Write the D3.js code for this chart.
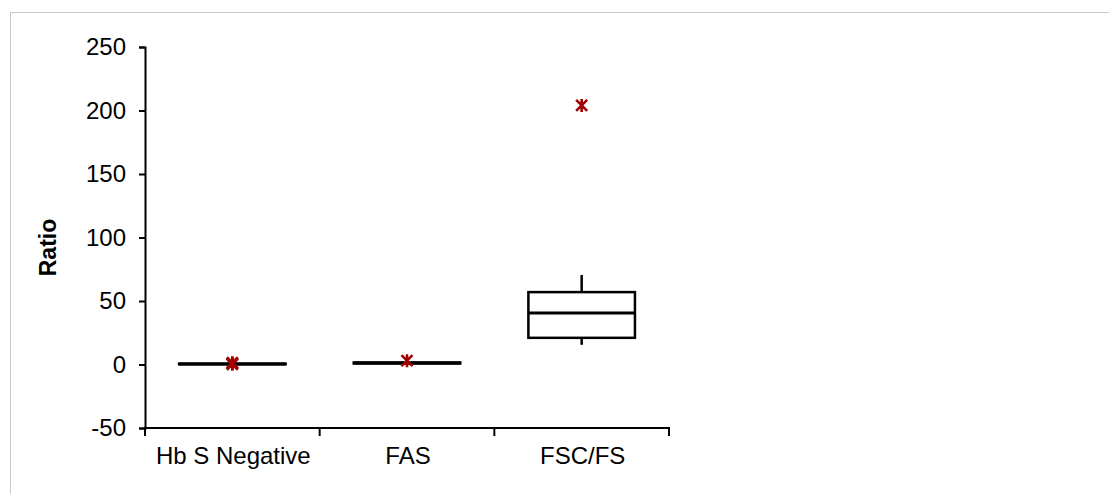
<!DOCTYPE html>
<html>
<head>
<meta charset="utf-8">
<script src="https://cdn.jsdelivr.net/npm/d3@7"></script>
<style>
  html, body { margin: 0; padding: 0; background: #fff; }
  svg { display: block; font-family: "Liberation Sans", Arial, sans-serif; }
</style>
</head>
<body>
<svg id="chart" width="1109" height="494"></svg>
<script>
// Groups and their box-plot summaries (ratio)
const categories = ["Hb S Negative", "FAS", "FSC/FS"];
const whiskerLow  = [0.0, 0.5, 15.5];
const q1          = [0.2, 0.8, 21];
const median      = [0.4, 1.2, 40.5];
const q3          = [0.7, 1.6, 57];
const whiskerHigh = [1.0, 2.0, 70.5];
const outliers    = [[0.2, 0.8, 1.4], [3], [204]];
const yTicks = [-50, 0, 50, 100, 150, 200, 250];

const svg = d3.select("#chart");

// outer frame
svg.append("rect")
  .attr("x", 10.5).attr("y", 12.5)
  .attr("width", 1200).attr("height", 600)
  .attr("fill", "#fff").attr("stroke", "#c8c8c8").attr("stroke-width", 1);

const plotLeft = 145, plotRight = 669, plotTop = 47, plotBottom = 428;

const y = d3.scaleLinear().domain([-50, 250]).range([plotBottom, plotTop]);
const x = d3.scaleBand().domain(categories).range([plotLeft, plotRight])
  .paddingInner(0.39).paddingOuter(0.195);
const xEdges = d3.scaleBand().domain(categories).range([plotLeft, plotRight]);

const fontSize = 24;

// y axis
const yAxis = svg.append("g")
  .attr("transform", `translate(${plotLeft},0)`)
  .call(d3.axisLeft(y).tickValues(yTicks).tickFormat(d => String(d)).tickSize(6).tickPadding(13));
yAxis.select(".domain").attr("stroke", "#000").attr("stroke-width", 2);
yAxis.selectAll(".tick line").attr("stroke", "#000").attr("stroke-width", 2);
yAxis.selectAll(".tick text")
  .attr("font-size", fontSize).attr("fill", "#000")
  .attr("font-family", "Liberation Sans, Arial, sans-serif");

// x axis with ticks at category boundaries
const xAxisG = svg.append("g").attr("transform", `translate(0,${plotBottom})`);
xAxisG.append("line")
  .attr("x1", plotLeft - 1).attr("x2", plotRight + 1)
  .attr("y1", 0).attr("y2", 0)
  .attr("stroke", "#000").attr("stroke-width", 2);
const edges = categories.map(c => xEdges(c)).concat([plotRight]);
xAxisG.selectAll("line.edge").data(edges).enter().append("line")
  .attr("class", "edge")
  .attr("x1", d => d).attr("x2", d => d)
  .attr("y1", 0).attr("y2", 8)
  .attr("stroke", "#000").attr("stroke-width", 2);
xAxisG.selectAll("text").data(categories).enter().append("text")
  .attr("x", d => xEdges(d) + xEdges.bandwidth() / 2 + 1)
  .attr("y", 36)
  .attr("text-anchor", "middle")
  .attr("font-size", fontSize).attr("fill", "#000")
  .text(d => d);

// axis title
svg.append("text")
  .attr("transform", `translate(56,${(plotTop + plotBottom) / 2 + 10}) rotate(-90)`)
  .attr("text-anchor", "middle")
  .attr("font-size", 23).attr("font-weight", "bold").attr("fill", "#000")
  .text("Ratio");

// boxes
const boxes = svg.append("g");
categories.forEach((c, i) => {
  const x0 = x(c), w = x.bandwidth(), cx = x0 + w / 2;
  const g = boxes.append("g");
  // whiskers
  g.append("line").attr("x1", cx).attr("x2", cx)
    .attr("y1", y(whiskerHigh[i])).attr("y2", y(q3[i]))
    .attr("stroke", "#000").attr("stroke-width", 2.5);
  g.append("line").attr("x1", cx).attr("x2", cx)
    .attr("y1", y(q1[i])).attr("y2", y(whiskerLow[i]))
    .attr("stroke", "#000").attr("stroke-width", 2.5);
  // box
  g.append("rect")
    .attr("x", x0).attr("y", y(q3[i]))
    .attr("width", w).attr("height", Math.max(0.01, y(q1[i]) - y(q3[i])))
    .attr("fill", "#fff").attr("stroke", "#000").attr("stroke-width", 2.5);
  // median
  g.append("line").attr("x1", x0).attr("x2", x0 + w)
    .attr("y1", y(median[i])).attr("y2", y(median[i]))
    .attr("stroke", "#000").attr("stroke-width", 3);
});

// outliers drawn as asterisks
const s = 5.5;
const marks = svg.append("g").attr("stroke", "#a00000").attr("stroke-width", 2.6);
categories.forEach((c, i) => {
  const cx = x(c) + x.bandwidth() / 2;
  outliers[i].forEach(v => {
    const cy = y(v);
    marks.append("path")
      .attr("d", `M${cx - s},${cy - s}L${cx + s},${cy + s}M${cx - s},${cy + s}L${cx + s},${cy - s}M${cx},${cy - s - 1}L${cx},${cy + s + 1}`)
      .attr("fill", "none");
  });
});
</script>
</body>
</html>
